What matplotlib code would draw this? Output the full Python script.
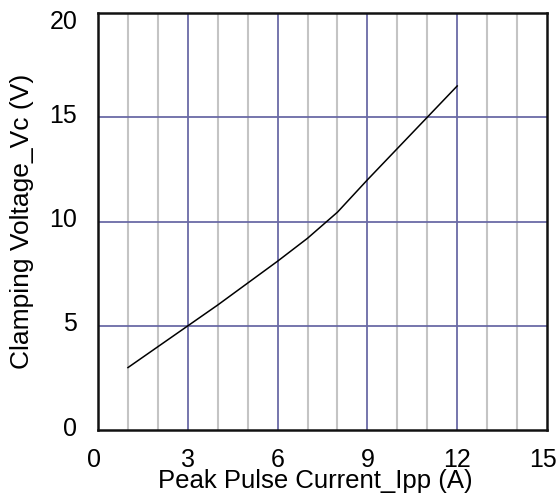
import matplotlib
matplotlib.use("Agg")
import matplotlib.pyplot as plt
import matplotlib.transforms as mtransforms

plt.rcParams['font.family'] = ['Liberation Sans', 'DejaVu Sans']

# curve
ipp = [1, 2, 3, 4, 5, 6, 7, 8, 9, 10, 11, 12]
vc = [3.0, 4.0, 5.0, 6.0, 7.05, 8.1, 9.2, 10.45, 12.0, 13.5, 15.0, 16.5]

x_ticks = [0, 3, 6, 9, 12, 15]
y_ticks = [0, 5, 10, 15, 20]
x_minor = [1, 2, 4, 5, 7, 8, 10, 11, 13, 14]

fig = plt.figure(figsize=(5.57, 4.99), dpi=100)
ax = fig.add_axes([0.176, 0.138, 0.806, 0.836])

# grid
for xm in x_minor:
    ax.axvline(xm, color='#c4c4c4', lw=1.5, zorder=1)
for xt in x_ticks[1:-1]:
    ax.axvline(xt, color='#6a6aa6', lw=1.3, zorder=2)
for yt in y_ticks[1:-1]:
    ax.axhline(yt, color='#6a6aa6', lw=1.3, zorder=2)

ax.plot(ipp, vc, color='black', lw=1.1, zorder=3)

ax.set_xlim(0, 15)
ax.set_ylim(0, 20)
ax.set_xticks(x_ticks)
ax.set_yticks(y_ticks)
ax.tick_params(length=0, labelsize=18)
ax.tick_params(axis='x', pad=13)
ax.tick_params(axis='y', pad=15)

# y tick labels sit a bit above their gridlines, the top one below
up = mtransforms.ScaledTranslation(0, 4 / 100, fig.dpi_scale_trans)
down = mtransforms.ScaledTranslation(0, -7 / 100, fig.dpi_scale_trans)
ylabs = ax.get_yticklabels()
for lab in ylabs[:-1]:
    lab.set_transform(lab.get_transform() + up)
ylabs[-1].set_transform(ylabs[-1].get_transform() + down)

# last x label is close to the edge
left = mtransforms.ScaledTranslation(-4 / 100, 0, fig.dpi_scale_trans)
xlabs = ax.get_xticklabels()
xlabs[-1].set_transform(xlabs[-1].get_transform() + left)
xlabs[0].set_transform(xlabs[0].get_transform() + left)

for s in ax.spines.values():
    s.set_linewidth(1.8)
    s.set_color('#111111')
    s.set_zorder(4)

ax.set_xlabel('Peak Pulse Current_Ipp (A)', fontsize=18.5)
ax.xaxis.label.set_va('center')
ax.xaxis.set_label_coords(0.483, -0.123)
ax.set_ylabel('Clamping Voltage_Vc (V)', fontsize=19)
ax.yaxis.label.set_va('center')
ax.yaxis.set_label_coords(-0.17, 0.5)

fig.savefig('out.png', dpi=100)
